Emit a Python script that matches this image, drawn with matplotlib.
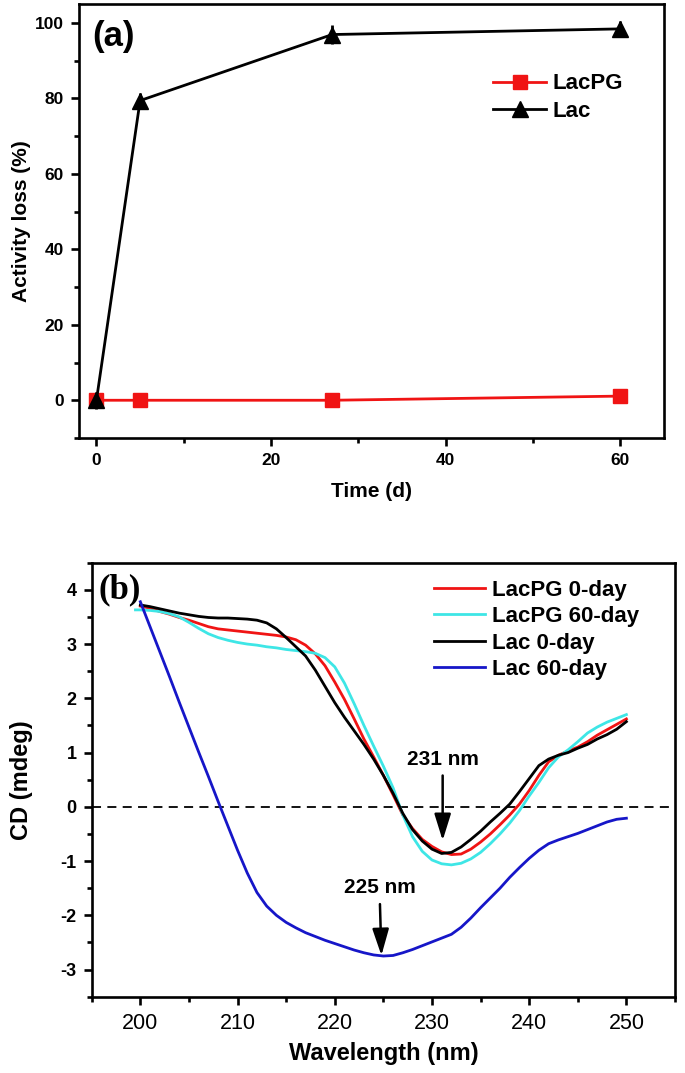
import matplotlib
matplotlib.use('Agg')
import matplotlib.pyplot as plt
from matplotlib.ticker import MultipleLocator

plt.rcParams['font.family'] = ['Liberation Sans', 'DejaVu Sans']
plt.rcParams['font.weight'] = 'bold'
plt.rcParams['axes.unicode_minus'] = False

# ---- panel (a): activity loss vs time
time_d = [0, 5, 27, 60]
lacpg_loss = [0.0, 0.0, 0.0, 1.1]
lacpg_err = [0.8, 0.8, 0.8, 0.8]
lac_loss = [0.0, 79.4, 96.9, 98.4]
lac_err = [2.2, 2.0, 2.4, 2.2]

# ---- panel (b): CD spectra
wl_lacpg0 = list(range(200, 251))
cd_lacpg0 = [3.70, 3.66, 3.60, 3.55, 3.49, 3.44, 3.38, 3.32, 3.28, 3.26,
             3.24, 3.22, 3.20, 3.18, 3.16, 3.13, 3.08, 2.98, 2.82, 2.60,
             2.30, 1.98, 1.62, 1.25, 0.92, 0.58, 0.22, -0.15, -0.40, -0.60,
             -0.73, -0.83, -0.88, -0.87, -0.78, -0.65, -0.50, -0.33, -0.15, 0.05,
             0.30, 0.58, 0.83, 0.95, 1.03, 1.10, 1.20, 1.32, 1.42, 1.52,
             1.62]

wl_lacpg60 = [199.5] + list(range(200, 251))
cd_lacpg60 = [3.63, 3.63, 3.62, 3.60, 3.56, 3.50, 3.40, 3.29, 3.19, 3.12, 3.07,
              3.03, 3.00, 2.98, 2.95, 2.93, 2.90, 2.88, 2.86, 2.83, 2.75,
              2.58, 2.28, 1.90, 1.50, 1.12, 0.75, 0.35, -0.15, -0.55, -0.82,
              -0.98, -1.05, -1.07, -1.04, -0.96, -0.84, -0.68, -0.50, -0.30, -0.07,
              0.20, 0.45, 0.72, 0.92, 1.05, 1.20, 1.36, 1.47, 1.56, 1.63,
              1.70]

wl_lac0 = list(range(200, 251))
cd_lac0 = [3.72, 3.69, 3.65, 3.61, 3.57, 3.54, 3.51, 3.49, 3.48, 3.48,
           3.47, 3.46, 3.44, 3.39, 3.28, 3.12, 2.95, 2.78, 2.52, 2.22,
           1.92, 1.65, 1.40, 1.15, 0.88, 0.58, 0.25, -0.12, -0.42, -0.63,
           -0.78, -0.86, -0.84, -0.74, -0.60, -0.45, -0.28, -0.12, 0.05, 0.28,
           0.52, 0.76, 0.88, 0.95, 1.00, 1.08, 1.15, 1.25, 1.33, 1.43,
           1.57]

wl_lac60 = list(range(200, 251))
cd_lac60 = [3.78, 3.32, 2.86, 2.40, 1.93, 1.47, 1.01, 0.56, 0.10, -0.35,
            -0.80, -1.22, -1.58, -1.83, -2.00, -2.13, -2.23, -2.32, -2.39, -2.46,
            -2.52, -2.58, -2.64, -2.69, -2.73, -2.75, -2.74, -2.69, -2.63, -2.56,
            -2.49, -2.42, -2.35, -2.22, -2.05, -1.86, -1.68, -1.50, -1.30, -1.12,
            -0.95, -0.80, -0.68, -0.61, -0.55, -0.49, -0.42, -0.35, -0.28, -0.23,
            -0.21]

fig = plt.figure(figsize=(6.85, 10.73), dpi=100)
ax1 = fig.add_axes([0.1153, 0.5918, 0.854, 0.4045])
ax2 = fig.add_axes([0.1339, 0.0711, 0.8515, 0.4045])

for ax in (ax1, ax2):
    for s in ax.spines.values():
        s.set_linewidth(1.9)
    ax.tick_params(which='major', direction='out', length=5.8, width=1.9,
                   top=False, right=False)
    ax.tick_params(which='minor', direction='out', length=3.6, width=1.9,
                   top=False, right=False)

# panel a
red = '#f01414'
ax1.errorbar(time_d, lacpg_loss, yerr=lacpg_err, fmt='none', ecolor=red,
             capsize=4, capthick=2, elinewidth=2, zorder=3)
ax1.plot(time_d, lacpg_loss, color=red, lw=2, marker='s', ms=10,
         label='LacPG', zorder=3)
ax1.errorbar(time_d, lac_loss, yerr=lac_err, fmt='none', ecolor='black',
             capsize=0, elinewidth=2, zorder=4)
ax1.plot(time_d, lac_loss, color='black', lw=2, marker='^', ms=12,
         label='Lac', zorder=4)
ax1.set_xlim(-2, 65)
ax1.set_ylim(-10, 105)
ax1.xaxis.set_major_locator(MultipleLocator(20))
ax1.xaxis.set_minor_locator(MultipleLocator(10))
ax1.yaxis.set_major_locator(MultipleLocator(20))
ax1.yaxis.set_minor_locator(MultipleLocator(10))
ax1.tick_params(labelsize=12.5, pad=5)
ax1.set_xlabel('Time (d)', fontsize=15, fontweight='bold', labelpad=10)
ax1.set_ylabel('Activity loss (%)', fontsize=15, fontweight='bold', labelpad=3)
ax1.text(0.022, 0.963, '(a)', transform=ax1.transAxes, fontsize=25,
         fontweight='bold', va='top', ha='left')
ax1.legend(loc='upper left', bbox_to_anchor=(0.708, 0.84), frameon=False,
           handlelength=2.4, handletextpad=0.25,
           borderpad=0, borderaxespad=0, labelspacing=0.3,
           prop={'weight': 'bold', 'size': 16})

# panel b
ax2.plot(wl_lacpg0, cd_lacpg0, color=red, lw=2, label='LacPG 0-day')
ax2.plot(wl_lacpg60, cd_lacpg60, color='#3ee6e6', lw=2, label='LacPG 60-day')
ax2.plot(wl_lac0, cd_lac0, color='black', lw=2, label='Lac 0-day')
ax2.plot(wl_lac60, cd_lac60, color='#1616c8', lw=2, label='Lac 60-day')
ax2.axhline(0, color='black', lw=1.3, ls=(0, (5, 3.5)), zorder=1)
ax2.set_xlim(195, 255)
ax2.set_ylim(-3.5, 4.5)
ax2.xaxis.set_major_locator(MultipleLocator(10))
ax2.xaxis.set_minor_locator(MultipleLocator(5))
ax2.yaxis.set_major_locator(MultipleLocator(1))
ax2.yaxis.set_minor_locator(MultipleLocator(0.5))
ax2.tick_params(axis='y', labelsize=13, pad=5)
ax2.tick_params(axis='x', labelsize=15.5, pad=6)
for lbl in ax2.get_xticklabels():
    lbl.set_fontweight('normal')
ax2.set_xlabel('Wavelength (nm)', fontsize=17, fontweight='bold', labelpad=6)
ax2.set_ylabel('CD (mdeg)', fontsize=17, fontweight='bold', labelpad=20)
ax2.text(0.011, 0.976, '(b)', transform=ax2.transAxes, fontsize=25,
         fontweight='bold', va='top', ha='left',
         family=['Liberation Serif', 'DejaVu Serif'])
ax2.legend(loc='upper left', bbox_to_anchor=(0.587, 0.961), frameon=False,
           handlelength=2.3, handletextpad=0.3, borderpad=0,
           borderaxespad=0, labelspacing=0.25,
           prop={'weight': 'bold', 'size': 16})

arrow = dict(arrowstyle='-|>,head_length=0.9,head_width=0.28', color='black',
             lw=1.8, mutation_scale=18, shrinkA=3, shrinkB=0)
ax2.annotate('231 nm', xy=(231.1, -0.62), xytext=(231.1, 0.88),
             ha='center', va='center', fontsize=15, fontweight='bold',
             arrowprops=arrow)
ax2.annotate('225 nm', xy=(224.8, -2.74), xytext=(224.6, -1.49),
             ha='center', va='center', fontsize=15, fontweight='bold',
             arrowprops=arrow)

fig.savefig('out.png', dpi=100)
